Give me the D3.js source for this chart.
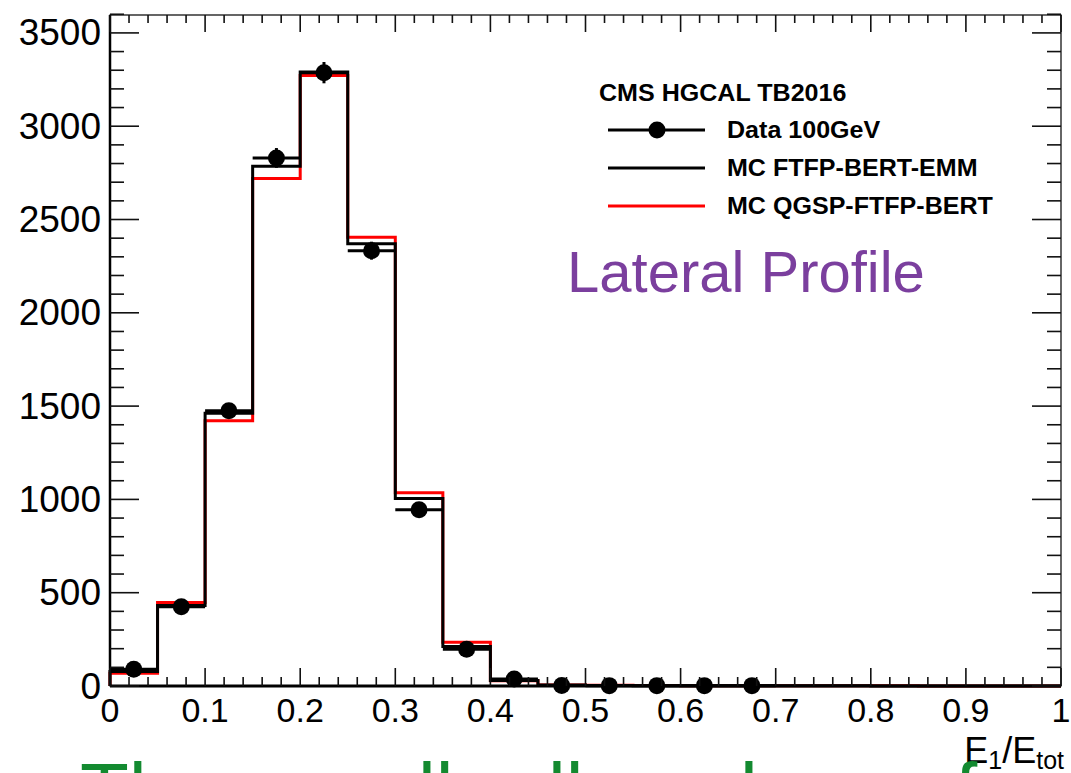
<!DOCTYPE html>
<html>
<head>
<meta charset="utf-8">
<script src="https://cdn.jsdelivr.net/npm/d3@7"></script>
<style>
  body { margin: 0; background: #fff; }
  text { font-family: "Liberation Sans", Arial, Helvetica, sans-serif; }
</style>
</head>
<body>
<svg id="chart" width="1071" height="773"></svg>
<script>
// lateral profile E1/Etot, 20 bins of width 0.05
const binLow = d3.range(0, 1, 0.05);
const binWidth = 0.05;

// data 100 GeV (points only drawn where present)
const dataCounts = [90, 425, 1475, 2830, 3287, 2333, 945, 197, 38, 3, 2, 2, 2, 2];
const dataErrors = [9, 21, 38, 53, 57, 48, 31, 14, 6, 2, 1, 1, 1, 1];

// MC FTFP-BERT-EMM (black)
const mcEmm = [78, 432, 1462, 2785, 3290, 2370, 1005, 212, 30, 5, 3, 2, 2, 1, 1, 1, 0, 0, 0, 0];
// MC QGSP-FTFP-BERT (red)
const mcQgsp = [68, 448, 1422, 2720, 3272, 2405, 1035, 234, 28, 6, 4, 3, 2, 2, 1, 1, 1, 0, 0, 0];

const xMajor = d3.range(0, 1.0001, 0.1);
const xMinor = d3.range(0, 1.0001, 0.02);
const yMajor = d3.range(0, 3501, 500);
const yMinor = d3.range(0, 3601, 100);

const legendItems = [
    {label: "Data 100GeV", color: "#000", marker: true},
    {label: "MC FTFP-BERT-EMM", color: "#000", marker: false},
    {label: "MC QGSP-FTFP-BERT", color: "#ff0000", marker: false}
];

const padLeft = 110, padRight = 1061, padTop = 15, padBottom = 686;

const svg = d3.select("#chart");
svg.append("rect").attr("width", 1071).attr("height", 773).attr("fill", "#fff");

const x = d3.scaleLinear().domain([0, 1]).range([padLeft, padRight]);
const y = d3.scaleLinear().domain([0, 3596]).range([padBottom, padTop]);

// step outline for a histogram
function stepPath(values) {
    const p = d3.path();
    p.moveTo(x(0), y(0));
    values.forEach((v, i) => {
        p.lineTo(x(binLow[i]), y(v));
        p.lineTo(x(binLow[i] + binWidth), y(v));
    });
    p.lineTo(x(1), y(0));
    return p.toString();
}

function drawHist(values, color) {
    svg.append("path")
        .attr("d", stepPath(values))
        .attr("fill", "none")
        .attr("stroke", color)
        .attr("stroke-width", 3);
}

drawHist(mcQgsp, "#ff0000");
drawHist(mcEmm, "#000");

// data points with error bars
const pts = svg.append("g");
dataCounts.forEach((v, i) => {
    const cx = x(binLow[i] + binWidth / 2);
    pts.append("line")
        .attr("x1", x(binLow[i])).attr("x2", x(binLow[i] + binWidth))
        .attr("y1", y(v)).attr("y2", y(v))
        .attr("stroke", "#000").attr("stroke-width", 3);
    pts.append("line")
        .attr("x1", cx).attr("x2", cx)
        .attr("y1", y(v - dataErrors[i])).attr("y2", y(v + dataErrors[i]))
        .attr("stroke", "#000").attr("stroke-width", 3);
    pts.append("circle")
        .attr("cx", cx).attr("cy", y(v)).attr("r", 8.5)
        .attr("fill", "#000");
});

// frame
svg.append("rect")
    .attr("x", padLeft).attr("y", padTop)
    .attr("width", padRight - padLeft).attr("height", padBottom - padTop)
    .attr("fill", "none").attr("stroke", "#000").attr("stroke-width", 1.2);
svg.append("line").attr("x1", padLeft).attr("x2", padLeft).attr("y1", padTop).attr("y2", padBottom)
    .attr("stroke", "#000").attr("stroke-width", 2.5);
svg.append("line").attr("x1", padLeft).attr("x2", padRight).attr("y1", padBottom).attr("y2", padBottom)
    .attr("stroke", "#000").attr("stroke-width", 3);

// ticks
const ticks = svg.append("g").attr("stroke", "#111").attr("stroke-width", 1.6);
xMinor.forEach(d => {
    const major = xMajor.some(m => Math.abs(m - d) < 1e-6);
    const len = major ? 18 : 9;
    const lenTop = major ? 17 : 8;
    ticks.append("line").attr("x1", x(d)).attr("x2", x(d)).attr("y1", padBottom).attr("y2", padBottom - len);
    ticks.append("line").attr("x1", x(d)).attr("x2", x(d)).attr("y1", padTop).attr("y2", padTop + lenTop);
});
yMinor.forEach(d => {
    const major = d % 500 === 0;
    const len = major ? 29 : 14;
    ticks.append("line").attr("x1", padLeft).attr("x2", padLeft + len).attr("y1", y(d)).attr("y2", y(d));
    ticks.append("line").attr("x1", padRight).attr("x2", padRight - len).attr("y1", y(d)).attr("y2", y(d));
});

// tick labels
svg.append("g").selectAll("text")
    .data(xMajor)
    .enter()
    .append("text")
    .attr("x", d => x(d))
    .attr("y", 722)
    .attr("text-anchor", "middle")
    .style("font-size", "34px")
    .text(d => d3.format("~g")(+d.toFixed(1)));

svg.append("g").selectAll("text")
    .data(yMajor)
    .enter()
    .append("text")
    .attr("x", 101)
    .attr("y", d => y(d) + 12.5)
    .attr("text-anchor", "end")
    .style("font-size", "37px")
    .text(d => d);

// axis title E1/Etot
const xt = svg.append("text")
    .attr("x", 1064).attr("y", 763)
    .attr("text-anchor", "end")
    .style("font-size", "36px");
xt.append("tspan").text("E");
xt.append("tspan").attr("dy", 6).style("font-size", "25px").text("1");
xt.append("tspan").attr("dy", -6).text("/E");
xt.append("tspan").attr("dy", 6).style("font-size", "25px").text("tot");

// legend (text a bit wider than the font gives)
svg.append("text")
    .attr("transform", "translate(599,101) scale(1.09,1)")
    .style("font-size", "23px").style("font-weight", "bold")
    .text("CMS HGCAL TB2016");

const legend = svg.selectAll(".legend")
    .data(legendItems)
    .enter()
    .append("g")
    .attr("class", "legend")
    .attr("transform", (d, i) => `translate(0,${130 + i * 38})`);

legend.append("line")
    .attr("x1", 608).attr("x2", 705)
    .attr("stroke", d => d.color)
    .attr("stroke-width", 3);

legend.filter(d => d.marker)
    .append("circle")
    .attr("cx", 657).attr("r", 8.5)
    .attr("fill", "#000");

legend.append("text")
    .attr("transform", "translate(727,8) scale(1.09,1)")
    .style("font-size", "23px").style("font-weight", "bold")
    .text(d => d.label);

// annotation
svg.append("text")
    .attr("x", 567).attr("y", 292)
    .style("font-size", "58px")
    .attr("fill", "#7b3f9e")
    .text("Lateral Profile");

// slide text below, cut off by the picture edge
const greenBits = [["Th", 80], ["ll", 418], ["ll", 548], ["l", 740], ["f", 955]];
svg.append("g").selectAll("text")
    .data(greenBits)
    .enter()
    .append("text")
    .attr("x", d => d[1]).attr("y", 819)
    .style("font-size", "80px")
    .attr("fill", "#138a30")
    .text(d => d[0]);
</script>
</body>
</html>
